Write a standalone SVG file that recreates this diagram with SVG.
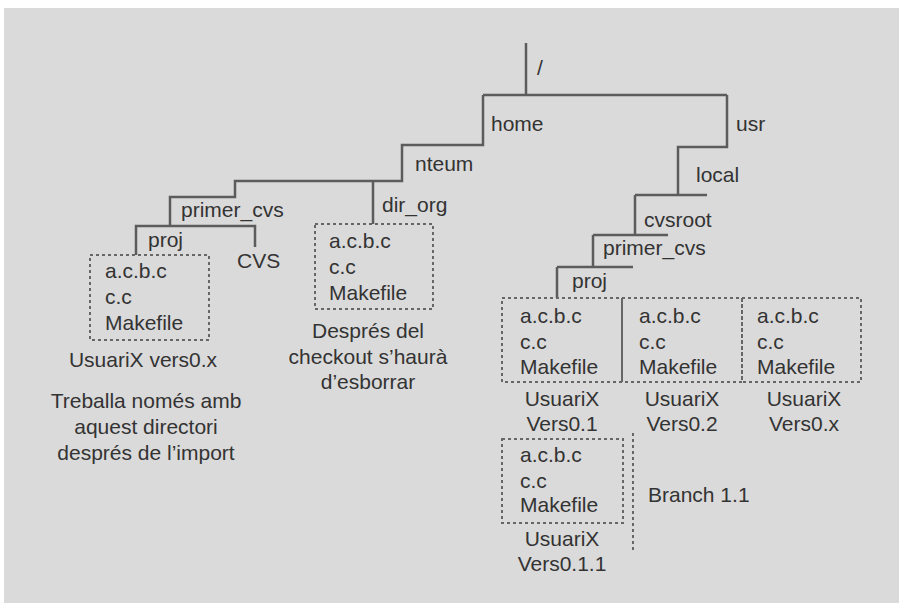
<svg xmlns="http://www.w3.org/2000/svg" width="899" height="603" viewBox="0 0 899 603">
<style>
text{font-family:"Liberation Sans",Arial,sans-serif;font-size:21px;fill:#333}
.c{text-anchor:middle}
.ln{fill:none;stroke:#5c5c5c;stroke-width:2.5}
.box{fill:none;stroke:#666;stroke-width:2;stroke-dasharray:3 3}
</style>
<rect x="0" y="0" width="899" height="603" fill="#fff"/>
<rect x="4" y="8" width="895" height="595" fill="#dadada"/>
<g id="connectors">
<path class="ln" d="M526 43V95M483 95H727M483 95V145H402V181H235V197H170V226M373 181V224M136 255V226H255V247"/>
<path class="ln" d="M727 95V147H678V195M635 195H707M635 195V235M593 235H668M593 235V267M557 267H633M557 267V298"/>
<path class="box" d="M633 433V553"/>
</g>
<g id="root"><text x="537" y="75">/</text></g>
<g id="home"><text x="491" y="131">home</text></g>
<g id="usr"><text x="736" y="131">usr</text></g>
<g id="nteum"><text x="415" y="171">nteum</text></g>
<g id="local"><text x="696" y="182">local</text></g>
<g id="cvsroot"><text x="644" y="227">cvsroot</text></g>
<g id="primer_cvs_r"><text x="603" y="255">primer_cvs</text></g>
<g id="proj_r"><text x="572" y="288">proj</text></g>
<g id="primer_cvs_l"><text x="181" y="217">primer_cvs</text></g>
<g id="dir_org"><text x="382" y="212">dir_org</text></g>
<g id="proj_l"><text x="148" y="247">proj</text></g>
<g id="cvs"><text x="237" y="268">CVS</text></g>
<g id="box_work">
<rect class="box" x="90" y="255" width="119" height="85"/>
<text x="105" y="278">a.c.b.c</text><text x="105" y="304">c.c</text><text x="105" y="330">Makefile</text>
<text class="c" x="143" y="367">UsuariX vers0.x</text>
<text class="c" x="146" y="408">Treballa només amb</text>
<text class="c" x="146" y="434">aquest directori</text>
<text class="c" x="146" y="460">després de l’import</text>
</g>
<g id="box_dir_org">
<rect class="box" x="315" y="224" width="118" height="85"/>
<text x="329" y="248">a.c.b.c</text><text x="329" y="274">c.c</text><text x="329" y="300">Makefile</text>
<text class="c" x="368" y="338">Després del</text>
<text class="c" x="368" y="364">checkout s’haurà</text>
<text class="c" x="368" y="389">d’esborrar</text>
</g>
<g id="box_v01">
<rect class="box" x="502" y="298" width="120" height="84"/>
<text x="520" y="323">a.c.b.c</text><text x="520" y="349">c.c</text><text x="520" y="374">Makefile</text>
<text class="c" x="562" y="406">UsuariX</text><text class="c" x="562" y="431">Vers0.1</text>
</g>
<g id="box_v02">
<rect class="box" x="622" y="298" width="120" height="84"/>
<text x="639" y="323">a.c.b.c</text><text x="639" y="349">c.c</text><text x="639" y="374">Makefile</text>
<text class="c" x="682" y="406">UsuariX</text><text class="c" x="682" y="431">Vers0.2</text>
</g>
<g id="box_v0x">
<rect class="box" x="742" y="298" width="119" height="84"/>
<text x="757" y="323">a.c.b.c</text><text x="757" y="349">c.c</text><text x="757" y="374">Makefile</text>
<text class="c" x="804" y="406">UsuariX</text><text class="c" x="804" y="431">Vers0.x</text>
</g>
<g id="box_v011">
<rect class="box" x="502" y="439" width="121" height="84"/>
<text x="520" y="462">a.c.b.c</text><text x="520" y="488">c.c</text><text x="520" y="512">Makefile</text>
<text class="c" x="562" y="546">UsuariX</text><text class="c" x="562" y="571">Vers0.1.1</text>
</g>
<g id="branch"><text x="648" y="502">Branch 1.1</text></g>
</svg>
